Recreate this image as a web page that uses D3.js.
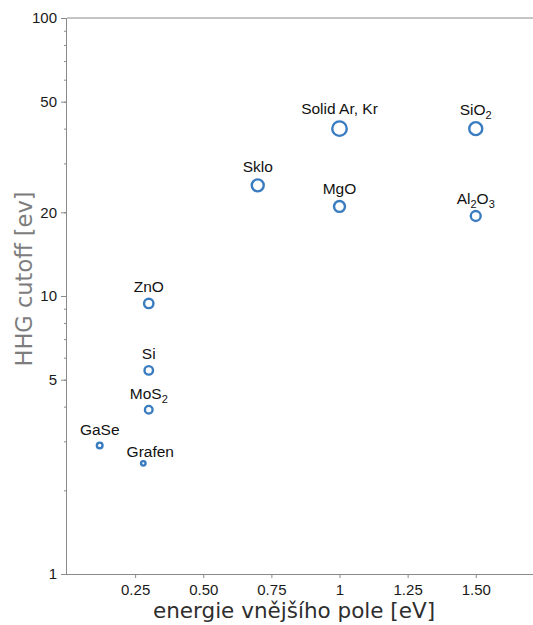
<!DOCTYPE html>
<html>
<head>
<meta charset="utf-8">
<script src="https://cdn.jsdelivr.net/npm/d3@7"></script>
<style>
  body { margin: 0; background: #fff; }
  .tick text { font-family: "Liberation Sans", Arial, sans-serif; font-size: 15px; fill: #1a1a1a; }
  .axis path, .axis line { stroke: #8a8a8a; }
  .pt-label { font-family: "Liberation Sans", Arial, sans-serif; font-size: 15.5px; fill: #111; }
</style>
</head>
<body>
<script>
// materials and their values
var materials = ["GaSe", "Grafen", "MoS2", "Si", "ZnO", "Sklo", "MgO", "Solid Ar, Kr", "SiO2", "Al2O3"];
var fieldEnergy = [0.12, 0.28, 0.30, 0.30, 0.30, 0.70, 1.00, 1.00, 1.50, 1.50];
var cutoff = [2.9, 2.5, 3.9, 5.4, 9.4, 25, 21, 40, 40, 19.4];
var bubbleVal = [2.2, 1.6, 3.4, 4.0, 4.7, 7.0, 6.0, 9.6, 8.0, 5.1];

var xTicks = [0.25, 0.5, 0.75, 1, 1.25, 1.5];
var xTickLabels = ["0.25", "0.50", "0.75", "1", "1.25", "1.50"];
var yLabelled = [1, 5, 10, 20, 50, 100];

var data = materials.map(function(m, i) {
    return {name: m, x: fieldEnergy[i], y: cutoff[i], v: bubbleVal[i]};
});

var width = 533, height = 625;
var margin = {top: 18, right: 0, bottom: 51, left: 67};
var w = width - margin.left - margin.right,
    h = height - margin.top - margin.bottom;

var svg = d3.select("body").append("svg")
    .attr("width", width)
    .attr("height", height);

var g = svg.append("g")
    .attr("transform", "translate(" + margin.left + "," + margin.top + ")");

var xScale = d3.scaleLinear().domain([0, w / 272.5]).range([0, w]);
var yScale = d3.scaleLog().domain([1, 100]).range([h, 0]);
var rScale = d3.scaleSqrt().domain([0, 10]).range([0, 8.6]);

// y minor ticks 1..9 per decade
var yMinor = [];
[1, 10].forEach(function(dec) {
    for (var k = 2; k <= 9; k++) yMinor.push(k * dec);
});

// top frame line
g.append("line")
    .attr("x1", 0).attr("x2", w)
    .attr("y1", 0).attr("y2", 0)
    .attr("stroke", "#8a8a8a");

// x axis
var xAxis = d3.axisBottom(xScale)
    .tickValues(xTicks)
    .tickSize(4)
    .tickPadding(6)
    .tickFormat(function(d, i) { return xTickLabels[i]; });

g.append("g")
    .attr("class", "x axis")
    .attr("transform", "translate(0," + h + ")")
    .call(xAxis)
    .call(function(s) { s.select(".domain").attr("d", "M0,0.5H" + w); });

// y axis: minor ticks then labelled ones
g.append("g")
    .attr("class", "y axis minor")
    .call(d3.axisLeft(yScale).tickValues(yMinor).tickSize(3).tickFormat(""))
    .call(function(s) { s.select(".domain").remove(); });

g.append("g")
    .attr("class", "y axis")
    .call(d3.axisLeft(yScale).tickValues(yLabelled).tickSize(6).tickPadding(4).tickFormat(d3.format("d")))
    .call(function(s) { s.select(".domain").attr("d", "M-0.5,0V" + h); });

// axis titles
svg.append("text")
    .attr("x", 294)
    .attr("y", 618)
    .attr("text-anchor", "middle")
    .style("font-family", "DejaVu Sans, sans-serif")
    .style("font-size", "21.5px")
    .style("fill", "#2e2e2e")
    .text("energie vnějšího pole [eV]");

svg.append("text")
    .attr("transform", "translate(32,279) rotate(-90)")
    .attr("text-anchor", "middle")
    .style("font-family", "DejaVu Sans, sans-serif")
    .style("font-size", "22.5px")
    .style("fill", "#7d7d7d")
    .text("HHG cutoff [ev]");

// bubbles
g.selectAll(".bubble")
    .data(data)
    .enter().append("circle")
    .attr("class", "bubble")
    .attr("cx", function(d) { return xScale(d.x); })
    .attr("cy", function(d) { return yScale(d.y); })
    .attr("r", function(d) { return rScale(d.v) - 1.2; })
    .attr("fill", "#fff")
    .attr("stroke", "#3a7cc0")
    .attr("stroke-width", 2.4);

// labels, with chemical subscripts
var labelNudge = {"Grafen": [7, 3]};

var labels = g.selectAll(".pt-label")
    .data(data)
    .enter().append("text")
    .attr("class", "pt-label")
    .attr("text-anchor", "middle")
    .attr("x", function(d) { return xScale(d.x) + (labelNudge[d.name] ? labelNudge[d.name][0] : 0); })
    .attr("y", function(d) { return yScale(d.y) - rScale(d.v) - 6 + (labelNudge[d.name] ? labelNudge[d.name][1] : 0); });

labels.each(function(d) {
    var t = d3.select(this);
    var parts = d.name.match(/[^0-9]+|[0-9]+/g);
    if (d.name.indexOf(" ") >= 0) parts = [d.name];
    parts.forEach(function(p) {
        if (/^[0-9]+$/.test(p)) {
            t.append("tspan").attr("dy", 4).style("font-size", "11px").text(p);
        } else {
            var ts = t.append("tspan").text(p);
            if (t.selectAll("tspan").size() > 1) ts.attr("dy", -4);
        }
    });
});
</script>
</body>
</html>
